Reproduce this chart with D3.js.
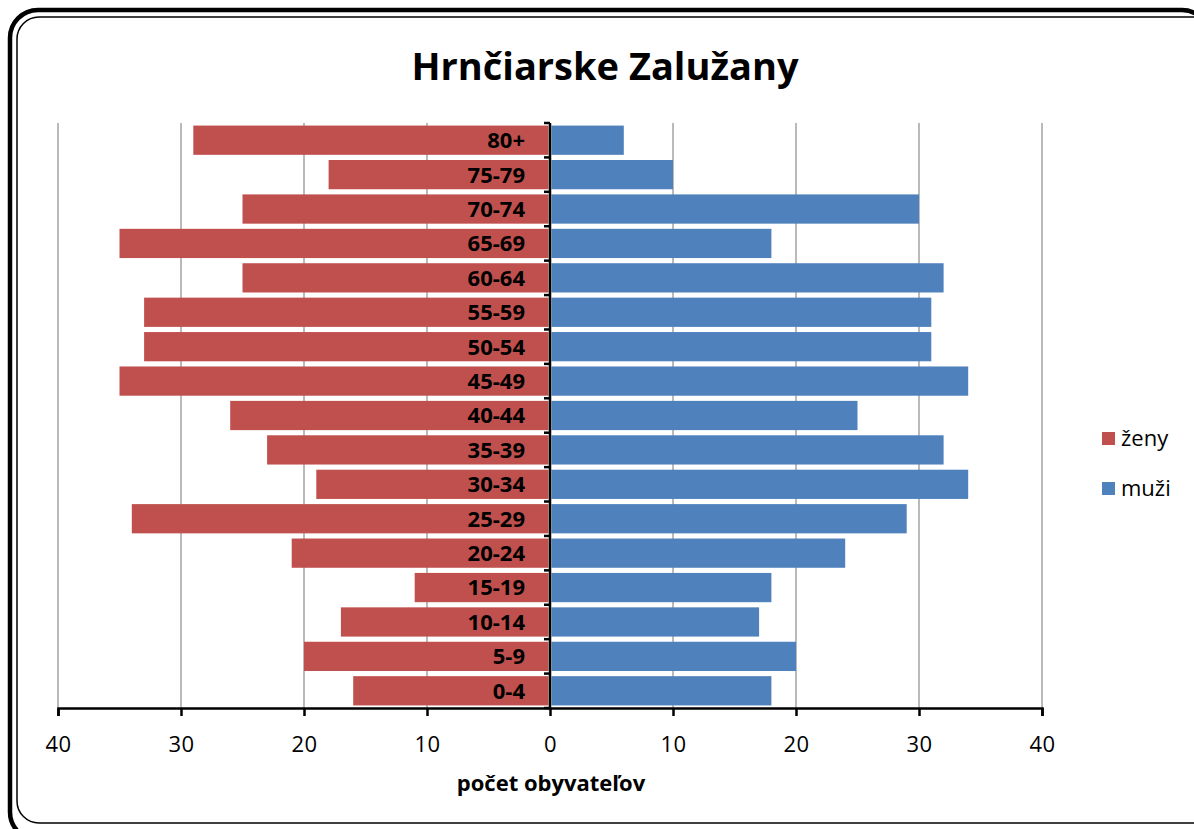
<!DOCTYPE html>
<html><head><meta charset="utf-8">
<script src="https://cdn.jsdelivr.net/npm/d3@7"></script>
<style>body{margin:0;background:#fff}svg{display:block}</style>
</head><body>
<svg id="c" width="1194" height="829"></svg>
<script>
const categories = ["80+","75-79","70-74","65-69","60-64","55-59","50-54","45-49","40-44","35-39","30-34","25-29","20-24","15-19","10-14","5-9","0-4"];
const zeny = [29,18,25,35,25,33,33,35,26,23,19,34,21,11,17,20,16];
const muzi = [6,10,30,18,32,31,31,34,25,32,34,29,24,18,17,20,18];
const tickValues = [-40,-30,-20,-10,0,10,20,30,40];
const seriesNames = ["ženy","muži"];
const colors = ["#C0504D","#4F81BD"];

const svg = d3.select("#c");
const font = "'Open Sans', sans-serif";

// border
svg.append("rect").attr("x",10).attr("y",10).attr("width",1200).attr("height",830).attr("rx",28)
  .attr("fill","none").attr("stroke","#000").attr("stroke-width",4.5);
svg.append("rect").attr("x",17).attr("y",17).attr("width",1200).attr("height",806).attr("rx",22)
  .attr("fill","none").attr("stroke","#000").attr("stroke-width",1.5);

svg.append("text").attr("x",605).attr("y",80).attr("text-anchor","middle")
  .attr("font-family",font).attr("font-weight","bold").attr("font-size",38).text("Hrnčiarske Zalužany");

const x = d3.scaleLinear().domain([-40,40]).range([58,1042]);
const y = d3.scaleBand().domain(categories).range([123,708]).paddingInner(0.15).paddingOuter(0.075);
const yb = d3.scaleBand().domain(categories).range([123,708]);

// grid
svg.append("g").selectAll("line").data(tickValues.filter(d=>d!==0)).join("line")
  .attr("x1",d=>x(d)).attr("x2",d=>x(d)).attr("y1",123).attr("y2",708)
  .attr("stroke","#8c8c8c").attr("stroke-width",1.2);

// bars
svg.append("g").selectAll("rect").data(categories).join("rect")
  .attr("x",(d,i)=>x(-zeny[i])).attr("width",(d,i)=>x(0)-x(-zeny[i])-1.5)
  .attr("y",d=>y(d)).attr("height",y.bandwidth()).attr("fill",colors[0]);
svg.append("g").selectAll("rect").data(categories).join("rect")
  .attr("x",x(0)+1.5).attr("width",(d,i)=>x(muzi[i])-x(0)-1.5)
  .attr("y",d=>y(d)).attr("height",y.bandwidth()).attr("fill",colors[1]);

// x axis
const xa = svg.append("g").attr("transform","translate(0,708)")
  .call(d3.axisBottom(x).tickValues(tickValues).tickFormat(d=>Math.abs(d)).tickSize(8).tickPadding(20));
xa.select(".domain").attr("stroke","#000").attr("stroke-width",2.5);
xa.selectAll(".tick line").attr("stroke","#000").attr("stroke-width",2.5);
xa.selectAll("text").attr("font-family",font).attr("font-size",22).attr("letter-spacing",0.5).attr("fill","#000");

// y axis
const ya = svg.append("g").attr("transform",`translate(${x(0)},0)`);
ya.append("line").attr("x1",0).attr("x2",0).attr("y1",123).attr("y2",708).attr("stroke","#000").attr("stroke-width",2.5);
ya.selectAll("line.t").data(categories.concat(["end"])).join("line").attr("class","t")
  .attr("x1",-6).attr("x2",0)
  .attr("y1",(d,i)=> i<categories.length ? yb(d) : 708)
  .attr("y2",(d,i)=> i<categories.length ? yb(d) : 708)
  .attr("stroke","#000").attr("stroke-width",2.5);
ya.selectAll("text").data(categories).join("text")
  .attr("x",-25).attr("y",d=>yb(d)+yb.bandwidth()/2).attr("dy","0.36em")
  .attr("text-anchor","end").attr("font-family",font).attr("font-weight","bold").attr("font-size",22)
  .text(d=>d);

svg.append("text").attr("x",551).attr("y",791).attr("text-anchor","middle")
  .attr("font-family",font).attr("font-weight","bold").attr("font-size",22).text("počet obyvateľov");

// legend
const lg = svg.append("g");
seriesNames.forEach((n,i)=>{
  lg.append("rect").attr("x",1102).attr("y",432+i*50).attr("width",13).attr("height",13).attr("fill",colors[i]);
  lg.append("text").attr("x",1121).attr("y",446+i*50).attr("font-family",font).attr("font-size",22).text(n);
});
</script>
</body></html>
